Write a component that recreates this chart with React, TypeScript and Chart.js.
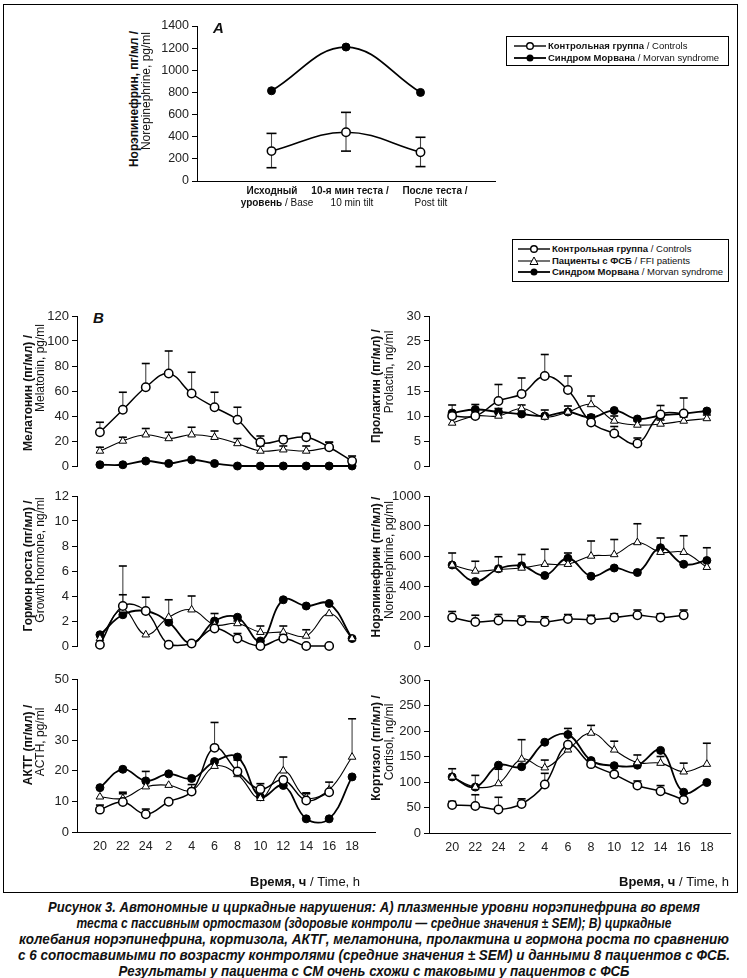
import React, { useEffect, useRef, useMemo } from 'react';
import { Chart, registerables } from 'chart.js';
Chart.register(...registerables);

const FONT = '"Liberation Sans", Arial, Helvetica, sans-serif';

// ---------- Panel A: tilt test ----------
const tiltControls = [270, 440, 260];
const tiltControlsLow = [120, 270, 130];
const tiltControlsHigh = [430, 620, 395];
const tiltMorvan = [815, 1210, 800];

// ---------- Panel B: circadian ----------
const hours = ['20', '22', '24', '2', '4', '6', '8', '10', '12', '14', '16', '18'];

const melControls = [27, 45, 63, 74, 58, 47, 37, 19, 21, 23, 15, 4];
const melControlsErr = [35, 59, 82, 92, 75, 59, 47, 24, 24, 26, 19, 8];
const melFFI = [12, 20, 25, 22, 25, 23, 18, 12, 13, 12, 15, null];
const melFFIErr = [15, 23, 30, 27, 31, 28, 22, 16, 16, 16, 19, null];
const melMorvan = [1, 1, 4, 2, 5, 2, 0, 0, 0, 0, 0, 0];

const prlControls = [10.0, 10, 13, 14.4, 18, 15.2, 8.7, 6.5, 4.5, 10.3, 10.5, null];
const prlControlsErr = [12.2, 12.3, 16.3, 17.6, 22.3, 18, 10.2, 7.9, 5.6, 12.1, 13.6, null];
const prlFFI = [8.6, 10, 10, 11.5, 9.8, 10.8, 12.3, 9, 8.2, 8.4, 9, 9.5];
const prlFFIErr = [9.8, 10.8, 11.5, 12.2, 11.2, 12, 14, 10, 9, 9.2, 9.8, 10.2];
const prlMorvan = [10.6, 11.3, 10.8, 10.4, 10, 10.8, 9.7, 11.1, 9.4, 10.1, 10.5, 11];

const ghControls = [0.1, 3.2, 2.8, 0.1, 0.2, 1.4, 0.6, 0, 0.6, 0, 0, null];
const ghControlsErr = [null, 6.4, 3.9, null, null, null, 1.0, null, null, null, null, null];
const ghFFI = [0.6, 2.9, 0.9, 2.3, 2.9, 1.7, 1.8, 1.1, 1.1, 0.8, 2.6, 0.6];
const ghFFIErr = [null, 4.1, null, 3.7, 4.0, 2.6, 2.0, 1.6, 1.6, 1.3, null, null];
const ghMorvan = [0.9, 2.5, 2.8, 1.9, 0.2, 2.0, 2.3, 0.4, 3.7, 3.2, 3.4, 0.6];

const neControls = [190, 160, 170, 165, 160, 180, 175, 190, 205, 190, 205, null];
const neControlsErr = [230, 205, 210, 200, 195, 210, 205, 215, 240, 215, 240, null];
const neFFI = [540, 500, 510, 520, 545, 545, 600, 610, 690, 625, 625, 525];
const neFFIErr = [620, 565, 595, 610, 645, 620, 700, 710, 815, 720, 735, 655];
const neMorvan = [540, 430, 515, 535, 470, 585, 465, 520, 490, 655, 545, 570];

const acthControls = [7.3, 9.8, 5.8, 9.9, 13.2, 27.5, 19.8, 14, 17, 10.3, 13, null];
const acthControlsErr = [8.8, 12.5, 7.5, null, null, 35.8, 23.5, 15.8, null, 12.5, 16.3, null];
const acthFFI = [11.5, 11, 14.8, 15.3, 13.5, 21.5, 18.8, 11, 20, 11.3, 13.8, 24.5];
const acthFFIErr = [null, 13, 19.8, null, 15.5, null, null, null, 24.5, 12.8, null, 37];
const acthMorvan = [14.5, 20.5, 16.7, 19, 17.5, 23, 24.5, 11.5, 15.2, 4.3, 4.3, 18];

const cortControls = [55, 53, 46, 57, 95, 173, 135, 115, 93, 82, 65, null];
const cortControlsErr = [62, 75, 70, 67, 117, 205, null, null, 102, 93, null, null];
const cortFFI = [110, 90, 97, 145, 128, 163, 196, 163, 138, 137, 120, 135];
const cortFFIErr = [126, 113, 125, 183, 143, null, 211, 180, 153, 150, 137, 176];
const cortMorvan = [110, 90, 133, 130, 178, 193, 142, 132, 133, 162, 80, 99];

type Vals = (number | null)[];
type Kind = 'open' | 'tri' | 'filled';
interface SeriesDef { values: Vals; kind: Kind; errHigh?: Vals; errLow?: Vals; cap?: number; }

const errorBarPlugin = {
  id: 'errbars',
  beforeDatasetsDraw(chart: any) {
    const ctx = chart.ctx;
    const xs = chart.scales.x;
    const ys = chart.scales.y;
    ctx.save();
    chart.data.datasets.forEach((ds: any) => {
      const hi: Vals | undefined = ds.errHigh;
      const lo: Vals | undefined = ds.errLow;
      if (!hi && !lo) return;
      const cw = ds.capW || 8;
      ds.data.forEach((p: any, j: number) => {
        if (!p || p.y == null) return;
        const x = xs.getPixelForValue(p.x);
        const y = ys.getPixelForValue(p.y);
        const draw = (v: number | null | undefined) => {
          if (v == null) return;
          const ye = ys.getPixelForValue(v);
          ctx.strokeStyle = '#444';
          ctx.lineWidth = 1.1;
          ctx.beginPath();
          ctx.moveTo(x, y);
          ctx.lineTo(x, ye);
          ctx.stroke();
          ctx.strokeStyle = '#000';
          ctx.lineWidth = 1.6;
          ctx.beginPath();
          ctx.moveTo(x - cw / 2, ye);
          ctx.lineTo(x + cw / 2, ye);
          ctx.stroke();
        };
        if (hi) draw(hi[j]);
        if (lo) draw(lo[j]);
      });
    });
    ctx.restore();
  },
};

function styleFor(kind: Kind) {
  if (kind === 'open')
    return { borderWidth: 1.5, pointStyle: 'circle', pointRadius: 4.2, pointBackgroundColor: '#fff', pointBorderWidth: 1.5 };
  if (kind === 'tri')
    return { borderWidth: 1.1, pointStyle: 'triangle', pointRadius: 4.4, pointBackgroundColor: '#fff', pointBorderWidth: 1 };
  return { borderWidth: 1.8, pointStyle: 'circle', pointRadius: 4, pointBackgroundColor: '#000', pointBorderWidth: 1 };
}

interface PanelProps {
  axisX: number; topY: number; zeroY: number; rightX: number;
  yMax: number; yStep: number; xMax: number;
  xLine: boolean; xTickLabels?: string[];
  series: SeriesDef[]; tickSize: number;
}

function LineChart(p: PanelProps) {
  const ref = useRef<HTMLCanvasElement>(null);
  const PADT = 12, PADR = 12, YW = 50;
  const XH = p.xTickLabels ? 28 : 0;
  const PADB = p.xTickLabels ? 0 : 12;
  const width = p.rightX - p.axisX + YW + PADR;
  const height = p.zeroY - p.topY + PADT + PADB + XH;
  useEffect(() => {
    const font = { family: FONT, size: p.tickSize };
    const datasets = p.series.map((s) => ({
      data: s.values.map((v, i) => ({ x: i + 1, y: v })),
      borderColor: '#000',
      pointBorderColor: '#000',
      tension: 0.4,
      clip: false as any,
      spanGaps: false,
      errHigh: s.errHigh,
      errLow: s.errLow,
      capW: s.cap || 8,
      ...styleFor(s.kind),
    }));
    const labels = p.xTickLabels;
    const chart = new Chart(ref.current as HTMLCanvasElement, {
      type: 'line',
      data: { datasets: datasets as any },
      options: {
        responsive: false,
        animation: false,
        layout: { padding: { top: PADT, right: PADR, bottom: PADB, left: 0 } },
        plugins: { legend: { display: false }, tooltip: { enabled: false } },
        scales: {
          x: {
            type: 'linear', min: 0, max: p.xMax, display: p.xLine,
            grid: { display: false, drawTicks: false },
            border: { display: true, color: '#000', width: 1 },
            ticks: {
              display: !!labels, stepSize: 1, autoSkip: false, maxRotation: 0, padding: 7,
              font: { family: FONT, size: 12.5 }, color: '#222',
              callback: (v: any) => (labels && labels[Number(v) - 1]) || '',
            },
            afterFit: (s: any) => { s.height = XH; },
          },
          y: {
            min: 0, max: p.yMax,
            grid: { display: true, drawOnChartArea: false, drawTicks: true, tickLength: 5, color: '#000', lineWidth: 1 },
            border: { display: true, color: '#000', width: 1 },
            ticks: { stepSize: p.yStep, padding: 3, font, color: '#222', callback: (v: any) => String(v) },
            afterFit: (s: any) => { s.width = YW; },
          },
        },
      } as any,
      plugins: [errorBarPlugin],
    });
    return () => chart.destroy();
  }, []);
  return (
    <canvas
      ref={ref}
      width={width}
      height={height}
      style={{ position: 'absolute', left: p.axisX - YW, top: p.topY - PADT, width, height }}
    />
  );
}

function VText(props: { left: number; cy: number; bold?: boolean; size?: number; children: React.ReactNode }) {
  const L = 300;
  const size = props.size || 12;
  return (
    <div
      style={{
        position: 'absolute', left: props.left, top: props.cy + L / 2, width: L, height: size,
        textAlign: 'center', transform: 'rotate(-90deg)', transformOrigin: 'left top',
        whiteSpace: 'nowrap', fontSize: size, lineHeight: size + 'px',
        fontWeight: props.bold ? 'bold' : 'normal', fontFamily: FONT, color: '#111',
      }}
    >
      {props.children}
    </div>
  );
}

function Txt(props: { left: number; cy: number; size: number; width?: number; align?: any; style?: any; children: React.ReactNode }) {
  return (
    <div
      style={{
        position: 'absolute', left: props.left, top: props.cy - props.size / 2, width: props.width,
        textAlign: props.align || 'left', whiteSpace: 'nowrap', fontSize: props.size,
        lineHeight: props.size + 'px', fontFamily: FONT, color: '#111', ...(props.style || {}),
      }}
    >
      {props.children}
    </div>
  );
}

function CText(props: { cx: number; cy: number; size: number; children: React.ReactNode; bold?: boolean }) {
  return (
    <Txt left={props.cx - 100} cy={props.cy} size={props.size} width={200} align="center" style={props.bold ? { fontWeight: 'bold' } : undefined}>
      {props.children}
    </Txt>
  );
}

function Symbol(props: { kind: Kind }) {
  const k = props.kind;
  return (
    <svg width={32} height={10} style={{ display: 'block' }}>
      <line x1={0} y1={5} x2={32} y2={5} stroke="#000" strokeWidth={k === 'filled' ? 1.8 : k === 'open' ? 1.4 : 1.1} />
      {k === 'open' && <circle cx={16} cy={5} r={3.3} fill="#fff" stroke="#000" strokeWidth={1.4} />}
      {k === 'filled' && <circle cx={16} cy={5} r={3.5} fill="#000" />}
      {k === 'tri' && <polygon points="16,1 20,8.5 12,8.5" fill="#fff" stroke="#000" strokeWidth={1} />}
    </svg>
  );
}

function LegendRow(props: { x: number; cy: number; kind: Kind; ru: string; en: string }) {
  return (
    <>
      <div style={{ position: 'absolute', left: props.x, top: props.cy - 5 }}>
        <Symbol kind={props.kind} />
      </div>
      <Txt left={props.x + 34} cy={props.cy} size={9.5}>
        <b>{props.ru}</b> / {props.en}
      </Txt>
    </>
  );
}

const captionLines = [
  'Рисунок 3. Автономные и циркадные нарушения: А) плазменные уровни норэпинефрина во время',
  'теста с пассивным ортостазом (здоровые контроли — средние значения ± SEM); В) циркадные',
  'колебания норэпинефрина, кортизола, АКТГ, мелатонина, пролактина и гормона роста по сравнению',
  'с 6 сопоставимыми по возрасту контролями (средние значения ± SEM) и данными 8 пациентов с ФСБ.',
  'Результаты у пациента с СМ очень схожи с таковыми у пациентов с ФСБ',
];
const captionWidths = [652, 595, 710, 712, 511];
const CAP_FONT = 'italic bold 15.5px "Liberation Sans", Arial, sans-serif';

function Caption() {
  const scales = useMemo(() => {
    try {
      const c = document.createElement('canvas').getContext('2d') as CanvasRenderingContext2D;
      c.font = CAP_FONT;
      return captionLines.map((l, i) => {
        const w = c.measureText(l).width;
        return w > 0 ? captionWidths[i] / w : 0.88;
      });
    } catch (e) {
      return captionLines.map(() => 0.88);
    }
  }, []);
  const W = 1600;
  return (
    <>
      {captionLines.map((line, i) => (
        <div key={i} style={{
          position: 'absolute', left: 373.5 - W / 2, width: W, top: 899 + i * 16, height: 16, textAlign: 'center',
          font: CAP_FONT, lineHeight: '16px', whiteSpace: 'nowrap', color: '#111',
          transform: `scaleX(${scales[i]})`, transformOrigin: '50% 50%',
        }}>{line}</div>
      ))}
    </>
  );
}

function trio(c: Vals, ce: Vals, f: Vals, fe: Vals, m: Vals): SeriesDef[] {
  return [
    { values: c, kind: 'open', errHigh: ce },
    { values: f, kind: 'tri', errHigh: fe },
    { values: m, kind: 'filled' },
  ];
}

export default function App() {
  return (
    <div style={{ position: 'absolute', left: 0, top: 0, width: 747, height: 978, background: '#fff', overflow: 'hidden', fontFamily: FONT }}>
      {/* outer frame */}
      <div style={{ position: 'absolute', left: 3, top: 4, width: 735, height: 889, border: '1.3px solid #000', boxSizing: 'border-box' }} />

      {/* ---------- Panel A ---------- */}
      <LineChart
        axisX={197} topY={26} zeroY={181} rightX={495} yMax={1400} yStep={200} xMax={4}
        xLine={true} tickSize={12.5}
        series={[
          { values: tiltControls, kind: 'open', errHigh: tiltControlsHigh, errLow: tiltControlsLow, cap: 10 },
          { values: tiltMorvan, kind: 'filled' },
        ]}
      />
      <Txt left={213} cy={27} size={15} style={{ fontWeight: 'bold', fontStyle: 'italic' }}>A</Txt>
      <VText left={128} cy={99} bold>Норэпинефрин, пг/мл /</VText>
      <VText left={140} cy={91}>Norepinephrine, pg/ml</VText>
      <CText cx={272} cy={191} size={10} bold>Исходный</CText>
      <CText cx={277} cy={203} size={10}><b>уровень</b> / Base</CText>
      <CText cx={350} cy={191} size={10} bold>10-я мин теста /</CText>
      <CText cx={352} cy={203} size={10}>10 min tilt</CText>
      <CText cx={435} cy={191} size={10} bold>После теста /</CText>
      <CText cx={431} cy={203} size={10}>Post tilt</CText>

      {/* legend A */}
      <div style={{ position: 'absolute', left: 506, top: 36, width: 223, height: 30, border: '1px solid #000', boxSizing: 'border-box' }} />
      <LegendRow x={514} cy={45.5} kind="open" ru="Контрольная группа" en="Controls" />
      <LegendRow x={514} cy={58} kind="filled" ru="Синдром Морвана" en="Morvan syndrome" />

      {/* legend B */}
      <div style={{ position: 'absolute', left: 512, top: 239, width: 217, height: 43, border: '1px solid #000', boxSizing: 'border-box' }} />
      <LegendRow x={518} cy={249} kind="open" ru="Контрольная группа" en="Controls" />
      <LegendRow x={518} cy={260.5} kind="tri" ru="Пациенты с ФСБ" en="FFI patients" />
      <LegendRow x={518} cy={272} kind="filled" ru="Синдром Морвана" en="Morvan syndrome" />

      {/* ---------- Panel B ---------- */}
      <Txt left={93} cy={317} size={15} style={{ fontWeight: 'bold', fontStyle: 'italic' }}>B</Txt>

      <LineChart axisX={77} topY={316} zeroY={466} rightX={375} yMax={120} yStep={20} xMax={13} xLine={false} tickSize={13}
        series={trio(melControls, melControlsErr, melFFI, melFFIErr, melMorvan)} />
      <VText left={22} cy={393} bold>Мелатонин (пг/мл) /</VText>
      <VText left={34} cy={368}>Melatonin, pg/ml</VText>

      <LineChart axisX={429} topY={316} zeroY={466} rightX={730} yMax={30} yStep={5} xMax={13} xLine={false} tickSize={13}
        series={trio(prlControls, prlControlsErr, prlFFI, prlFFIErr, prlMorvan)} />
      <VText left={370} cy={386} bold>Пролактин (пг/мл) /</VText>
      <VText left={383} cy={372}>Prolactin, ng/ml</VText>

      <LineChart axisX={77} topY={496} zeroY={646} rightX={375} yMax={12} yStep={2} xMax={13} xLine={false} tickSize={13}
        series={trio(ghControls, ghControlsErr, ghFFI, ghFFIErr, ghMorvan)} />
      <VText left={22} cy={566} bold>Гормон роста (пг/мл) /</VText>
      <VText left={34} cy={560}>Growth hormone, ng/ml</VText>

      <LineChart axisX={429} topY={496} zeroY={646} rightX={730} yMax={1000} yStep={200} xMax={13} xLine={false} tickSize={13}
        series={trio(neControls, neControlsErr, neFFI, neFFIErr, neMorvan)} />
      <VText left={370} cy={567} bold>Норэпинефрин (пг/мл) /</VText>
      <VText left={383} cy={560}>Norepinephrine, pg/ml</VText>

      <LineChart axisX={77} topY={679} zeroY={832} rightX={375} yMax={50} yStep={10} xMax={13} xLine={true} xTickLabels={hours} tickSize={13}
        series={trio(acthControls, acthControlsErr, acthFFI, acthFFIErr, acthMorvan)} />
      <VText left={22} cy={745} bold>АКТГ (пг/мл) /</VText>
      <VText left={34} cy={742}>ACTH, pg/ml</VText>

      <LineChart axisX={429} topY={680} zeroY={833} rightX={730} yMax={300} yStep={50} xMax={13} xLine={true} xTickLabels={hours} tickSize={13}
        series={trio(cortControls, cortControlsErr, cortFFI, cortFFIErr, cortMorvan)} />
      <VText left={370} cy={748} bold>Кортизол (пг/мл) /</VText>
      <VText left={383} cy={742}>Cortisol, ng/ml</VText>

      <Txt left={250} cy={881} size={13}><b>Время, ч</b> / Time, h</Txt>
      <Txt left={619} cy={881} size={13}><b>Время, ч</b> / Time, h</Txt>

      <Caption />
    </div>
  );
}
